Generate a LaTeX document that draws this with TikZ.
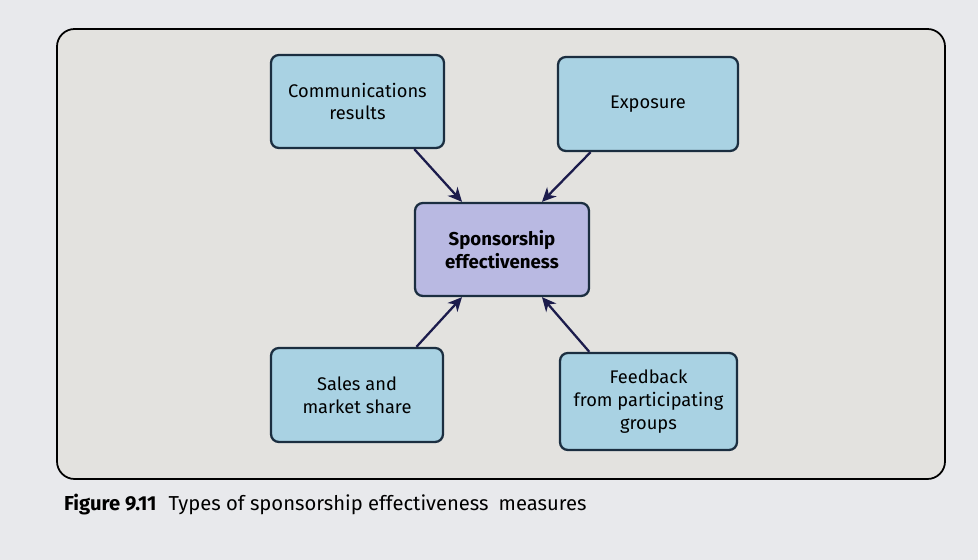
\documentclass[tikz,border=0pt]{standalone}
\usepackage{fontspec}
\setmainfont{Fira Sans}
\usetikzlibrary{arrows.meta}
\definecolor{paper}{HTML}{E8E9EC}
\definecolor{panel}{HTML}{E3E2DF}
\definecolor{boxblue}{HTML}{A9D2E3}
\definecolor{boxlilac}{HTML}{B9B9E2}
\definecolor{edge}{HTML}{1B2E40}
\definecolor{arrowc}{HTML}{1C1C4C}
\tikzset{
  measure/.style={draw=edge,line width=1.3pt,fill=boxblue,rounded corners=4.5pt,
    align=center,font=\fontsize{10.4}{13}\selectfont,inner sep=0pt},
  centre/.style={measure,fill=boxlilac,font=\fontsize{10.6}{13}\selectfont\bfseries}
}

\begin{document}
\begin{tikzpicture}[scale=1.0,>={Stealth[length=8pt,width=7.5pt,inset=2.5pt]}]
  \fill[paper](0,0)rectangle(19.56,11.2);
  \useasboundingbox(0,0)rectangle(19.56,11.2);
  \draw[line width=1pt,fill=panel,rounded corners=10pt](1.14,1.62)rectangle(18.9,10.62);

  \node[measure,minimum width=3.46cm,minimum height=1.86cm] (comm) at (7.15,9.17) {Communications\\results};
  \node[measure,minimum width=3.6cm,minimum height=1.88cm] (expo) at (12.96,9.12) {Exposure};
  \node[centre,minimum width=3.48cm,minimum height=1.86cm] (spon) at (10.04,6.21) {Sponsorship\\effectiveness};
  \node[measure,minimum width=3.44cm,minimum height=1.88cm] (sales) at (7.14,3.30) {Sales and\\market share};
  \node[measure,minimum width=3.54cm,minimum height=1.94cm] (feed) at (12.97,3.17) {Feedback\\from participating\\groups};

  \foreach \a/\b in {comm.-40/spon.130,expo.220/spon.50,sales.39/spon.230,feed.140/spon.-50}
  {
    \draw[->,arrowc,line width=1.3pt](\a)--(\b);
  }

  \node[anchor=west,font=\fontsize{11.5}{14}\selectfont] (caption) at (1.16,1.1)
    {\textbf{Figure 9.11}\hspace{0.6em}Types of sponsorship effectiveness\hspace{0.5em}measures};
\end{tikzpicture}
\end{document}
